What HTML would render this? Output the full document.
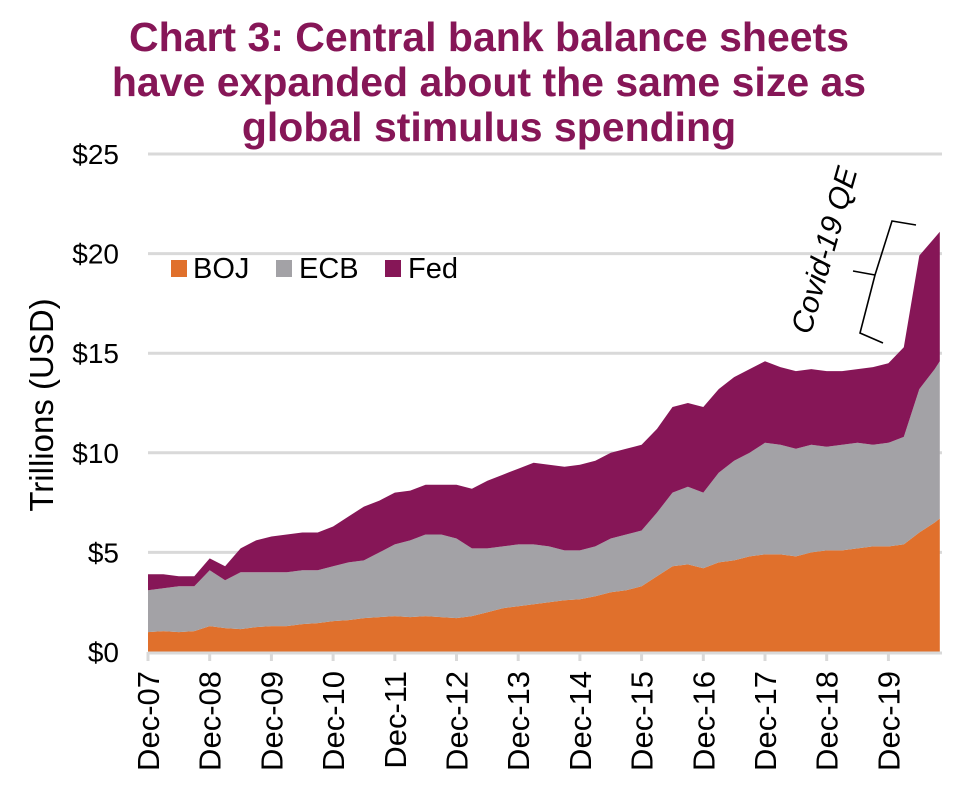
<!DOCTYPE html>
<html><head><meta charset="utf-8"><style>
html,body{margin:0;padding:0;background:#fff;}
svg{display:block;font-family:"Liberation Sans",Arial,sans-serif;}
</style></head><body>
<svg id="chart" width="970" height="810" viewBox="0 0 970 810">
<g font-weight="bold" font-size="41" fill="#861657" text-anchor="middle">
<text x="489" y="51">Chart 3: Central bank balance sheets</text>
<text x="489" y="96">have expanded about the same size as</text>
<text x="489" y="141">global stimulus spending</text>
</g>
<g id="grid"></g>
<g id="areas"></g>
<g id="yaxis"></g>
<g id="xaxis"></g>
<text transform="translate(53,405) rotate(-90)" text-anchor="middle" font-size="33" fill="#000">Trillions (USD)</text>
<g font-size="29" fill="#000">
<g><rect x="171" y="260" width="16" height="17" fill="#E0702C"/><text x="193" y="278">BOJ</text></g>
<g><rect x="276" y="260" width="16" height="17" fill="#A3A2A6"/><text x="299" y="278">ECB</text></g>
<g><rect x="385" y="260" width="16" height="17" fill="#861657"/><text x="408" y="278">Fed</text></g>
</g>
<text transform="translate(834,253) rotate(-74)" text-anchor="middle" font-size="30" font-style="italic" fill="#000">Covid-19 QE</text>
<path d="M916,225 L892,221 L875,275 L860,333 L883,343 M875,275 L853,271" fill="none" stroke="#000" stroke-width="1.6"/>
</svg>
<script>
const months=[0,3,6,9,12,15,18,21,24,27,30,33,36,39,42,45,48,51,54,57,60,63,66,69,72,75,78,81,84,87,90,93,96,99,102,105,108,111,114,117,120,123,126,129,132,135,138,141,144,147,150,153,154];
const boj=[1.0,1.05,1.0,1.05,1.3,1.2,1.15,1.25,1.3,1.3,1.4,1.45,1.55,1.6,1.7,1.75,1.8,1.75,1.8,1.75,1.7,1.8,2.0,2.2,2.3,2.4,2.5,2.6,2.65,2.8,3.0,3.1,3.3,3.8,4.3,4.4,4.2,4.5,4.6,4.8,4.9,4.9,4.8,5.0,5.1,5.1,5.2,5.3,5.3,5.4,6.0,6.5,6.7];
const ecb=[2.1,2.15,2.3,2.25,2.8,2.4,2.85,2.75,2.7,2.7,2.7,2.65,2.75,2.9,2.9,3.25,3.6,3.85,4.1,4.15,4.0,3.4,3.2,3.1,3.1,3.0,2.8,2.5,2.45,2.5,2.7,2.8,2.8,3.2,3.7,3.9,3.8,4.5,5.0,5.2,5.6,5.5,5.4,5.4,5.2,5.3,5.3,5.1,5.2,5.4,7.2,7.7,7.9];
const fed=[0.8,0.7,0.5,0.5,0.6,0.7,1.2,1.6,1.8,1.9,1.9,1.9,2.0,2.3,2.7,2.6,2.6,2.5,2.5,2.5,2.7,3.0,3.4,3.6,3.8,4.1,4.1,4.2,4.3,4.3,4.3,4.3,4.3,4.2,4.3,4.2,4.3,4.2,4.2,4.2,4.1,3.9,3.9,3.8,3.8,3.7,3.7,3.9,4.0,4.5,6.7,6.6,6.5];
const yTicks=[0,5,10,15,20,25];
const yTickLabels=["$0","$5","$10","$15","$20","$25"];
const xTickLabels=["Dec-07","Dec-08","Dec-09","Dec-10","Dec-11","Dec-12","Dec-13","Dec-14","Dec-15","Dec-16","Dec-17","Dec-18","Dec-19"];

const NS="http://www.w3.org/2000/svg";
const X0=148,PXM=61.7/12,Y0=652,PXV=19.92;
function xs(m){return X0+m*PXM;}
function ys(v){return Y0-v*PXV;}
function mk(tag,attrs,parent){const e=document.createElementNS(NS,tag);for(const k in attrs)e.setAttribute(k,attrs[k]);parent.appendChild(e);return e;}

const grid=document.getElementById('grid');
const yaxis=document.getElementById('yaxis');
yTicks.forEach((v,i)=>{
  if(v>0){const l=mk('line',{x1:X0,x2:942,y1:ys(v),y2:ys(v),stroke:'#d9d9d9','stroke-width':3},grid);
  
  }
  const t=mk('text',{x:119,y:ys(v)+10,'text-anchor':'end','font-size':28,fill:'#000'},yaxis);
  t.textContent=yTickLabels[i];
  
  
});

const areas=document.getElementById('areas');
const series=[boj,ecb,fed];
const colors=['#E0702C','#A3A2A6','#861657'];
const names=['area-boj','area-ecb','area-fed'];
let base=months.map(()=>0);
series.forEach((s,si)=>{
  const top=base.map((b,i)=>b+s[i]);
  let d='M'+months.map((m,i)=>xs(m).toFixed(1)+','+ys(top[i]).toFixed(1)).join(' L');
  for(let i=months.length-1;i>=0;i--)d+=' L'+xs(months[i]).toFixed(1)+','+ys(base[i]).toFixed(1);
  d+='Z';
  const p=mk('path',{d:d,fill:colors[si]},areas);
  
  
  base=top;
});

const xaxis=document.getElementById('xaxis');
const ax=mk('line',{x1:X0,x2:942,y1:Y0+1,y2:Y0+1,stroke:'#d9d9d9','stroke-width':3},xaxis);


xTickLabels.forEach((lab,i)=>{
  const x=xs(i*12);
  const tk=mk('line',{x1:x,x2:x,y1:Y0,y2:Y0+9,stroke:'#d9d9d9','stroke-width':3},xaxis);
  
  
  const t=mk('text',{transform:'translate('+(x+11)+','+(Y0+19)+') rotate(-90)','text-anchor':'end','font-size':31,fill:'#000'},xaxis);
  t.textContent=lab;
  
  
});
</script>
</body></html>
